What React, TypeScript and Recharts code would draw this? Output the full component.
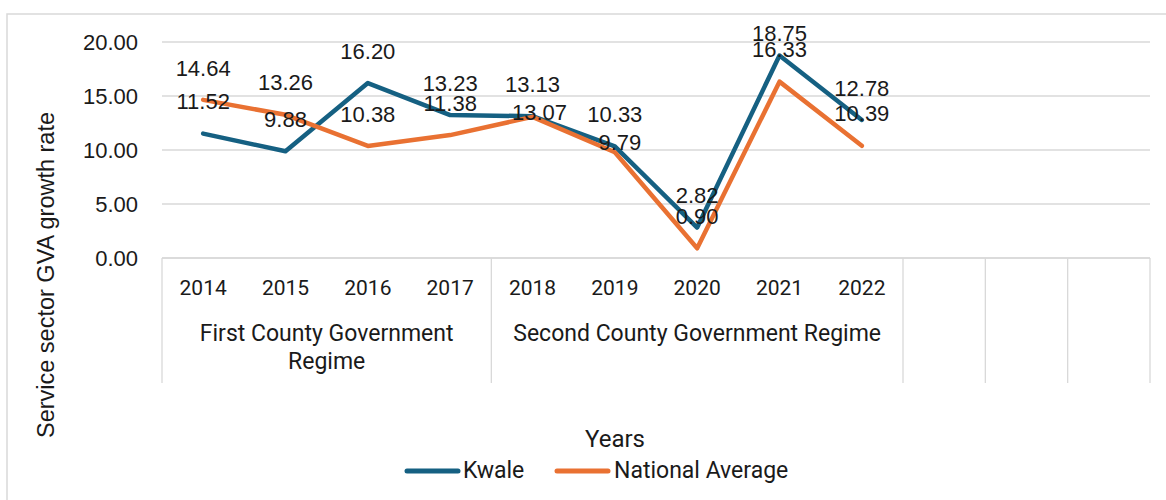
import React from "react";
import { LineChart, Line, XAxis, YAxis, CartesianGrid, LabelList } from "recharts";

const categories = ["2014", "2015", "2016", "2017", "2018", "2019", "2020", "2021", "2022", "", "", ""];
const kwale = [11.52, 9.88, 16.2, 13.23, 13.13, 10.33, 2.82, 18.75, 12.78];
const nationalAverage = [14.64, 13.26, 10.38, 11.38, 13.07, 9.79, 0.9, 16.33, 10.39];
const yTicks = [0, 5, 10, 15, 20];
const regimes = [
  { lines: ["First County Government", "Regime"], start: 0, count: 4 },
  { lines: ["Second County Government Regime"], start: 4, count: 5 },
  { lines: [], start: 9, count: 1 },
  { lines: [], start: 10, count: 1 },
  { lines: [], start: 11, count: 1 },
];

const WIDTH = 1166;
const HEIGHT = 500;
const PLOT_LEFT = 162;
const PLOT_RIGHT = 1150;
const PLOT_TOP = 42;
const PLOT_BOTTOM = 258;
const BAND = (PLOT_RIGHT - PLOT_LEFT) / categories.length;

const BLUE = "#156082";
const ORANGE = "#E97132";
const GRID = "#d9d9d9";
const TEXT = "#1a1a1a";
const NUM_FONT = "'Liberation Sans', Arial, sans-serif";
const CAT_FONT = "Roboto, 'Noto Sans', sans-serif";

// labels sit above the point, except where excel nudged them off a crossing
const LABEL_RAISE = 32;
const labelNudge: Record<string, { dx: number; dy: number }> = {
  "national-4": { dx: 7, dy: 27 },
  "national-5": { dx: 5, dy: 22 },
};

const data = categories.map((year, i) => ({
  year,
  kwale: kwale[i],
  national: nationalAverage[i],
}));

function CategoryTick(props: any) {
  const { x, payload } = props;
  const i = payload.index;
  const group = regimes.find((g) => g.start === i);
  const left = x - BAND / 2;
  return (
    <g>
      <text x={x} y={288} dy="0.35em" textAnchor="middle" fontSize={21} fontFamily={CAT_FONT} fill={TEXT}>
        {categories[i]}
      </text>
      {group && <line x1={left} x2={left} y1={PLOT_BOTTOM} y2={383} stroke={GRID} strokeWidth={1.3} />}
      {i === categories.length - 1 && (
        <line x1={x + BAND / 2} x2={x + BAND / 2} y1={PLOT_BOTTOM} y2={383} stroke={GRID} strokeWidth={1.3} />
      )}
      {group &&
        group.lines.map((ln, k) => (
          <text
            key={k}
            x={left + (group.count * BAND) / 2}
            y={333 + k * 28}
            dy="0.35em"
            textAnchor="middle"
            fontSize={23}
            fontFamily={CAT_FONT}
            fill={TEXT}
          >
            {ln}
          </text>
        ))}
    </g>
  );
}

function ValueLabel(props: any) {
  const { x, y, value, index, series } = props;
  if (value == null) return null;
  const nudge = labelNudge[`${series}-${index}`] || { dx: 0, dy: 0 };
  const ly = Math.max(y - LABEL_RAISE + nudge.dy, 33);
  return (
    <text x={x + nudge.dx} y={ly} dy="0.35em" textAnchor="middle" fontSize={22} fontFamily={NUM_FONT} fill={TEXT}>
      {Number(value).toFixed(2)}
    </text>
  );
}

export default function App() {
  return (
    <div style={{ position: "absolute", left: 0, top: 0, width: WIDTH, height: HEIGHT, background: "#fff" }}>
      <svg width={WIDTH} height={HEIGHT} style={{ position: "absolute", left: 0, top: 0 }}>
        <rect x={7} y={14} width={WIDTH + 20} height={HEIGHT + 20} fill="#fff" stroke={GRID} strokeWidth={1.5} />
      </svg>
      <div style={{ position: "absolute", left: 0, top: 0 }}>
        <LineChart
          width={WIDTH}
          height={HEIGHT}
          data={data}
          margin={{ top: PLOT_TOP, right: WIDTH - PLOT_RIGHT, bottom: 0, left: 0 }}
        >
          <CartesianGrid vertical={false} stroke={GRID} strokeWidth={1.3} />
          <XAxis
            dataKey="year"
            interval={0}
            height={HEIGHT - PLOT_BOTTOM}
            padding={{ left: BAND / 2, right: BAND / 2 }}
            axisLine={{ stroke: GRID, strokeWidth: 1.3 }}
            tickLine={false}
            tick={(p: any) => <CategoryTick {...p} />}
            label={{
              content: () => (
                <text x={615} y={439} dy="0.35em" textAnchor="middle" fontSize={24} fontFamily={CAT_FONT} fill={TEXT}>
                  Years
                </text>
              ),
            }}
          />
          <YAxis
            width={PLOT_LEFT}
            domain={[0, 20]}
            ticks={yTicks}
            tickFormatter={(v: number) => v.toFixed(2)}
            axisLine={false}
            tickLine={false}
            tickSize={0}
            tickMargin={24}
            tick={{ fill: TEXT, fontSize: 22, fontFamily: NUM_FONT }}
            label={{
              content: () => (
                <text
                  transform="translate(46,275) rotate(-90)"
                  dy="0.35em"
                  textAnchor="middle"
                  fontSize={23.5}
                  fontFamily={NUM_FONT}
                  fill={TEXT}
                >
                  Service sector GVA growth rate
                </text>
              ),
            }}
          />
          <Line
            dataKey="kwale"
            stroke={BLUE}
            strokeWidth={4.5}
            strokeLinejoin="round"
            strokeLinecap="round"
            dot={false}
            activeDot={false}
            isAnimationActive={false}
          />
          <Line
            dataKey="national"
            stroke={ORANGE}
            strokeWidth={4.5}
            strokeLinejoin="round"
            strokeLinecap="round"
            dot={false}
            activeDot={false}
            isAnimationActive={false}
          />
          <Line dataKey="kwale" stroke="none" dot={false} activeDot={false} isAnimationActive={false}>
            <LabelList dataKey="kwale" content={(p: any) => <ValueLabel {...p} series="kwale" />} />
          </Line>
          <Line dataKey="national" stroke="none" dot={false} activeDot={false} isAnimationActive={false}>
            <LabelList dataKey="national" content={(p: any) => <ValueLabel {...p} series="national" />} />
          </Line>
        </LineChart>
      </div>
      <svg width={WIDTH} height={HEIGHT} style={{ position: "absolute", left: 0, top: 0, pointerEvents: "none" }}>
        <line x1={407} x2={458} y1={471} y2={471} stroke={BLUE} strokeWidth={5} strokeLinecap="round" />
        <text x={463} y={470} dy="0.35em" fontSize={23} fontFamily={CAT_FONT} fill={TEXT}>
          Kwale
        </text>
        <line x1={557} x2={608} y1={471} y2={471} stroke={ORANGE} strokeWidth={5} strokeLinecap="round" />
        <text x={614} y={470} dy="0.35em" fontSize={23} fontFamily={CAT_FONT} fill={TEXT}>
          National Average
        </text>
      </svg>
    </div>
  );
}
